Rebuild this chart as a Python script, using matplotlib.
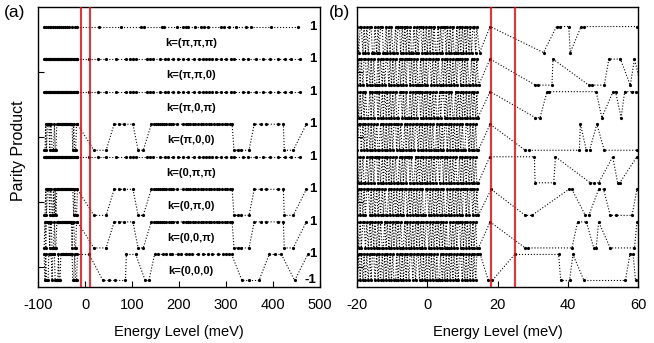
import numpy as np
import matplotlib.pyplot as plt

plt.rcParams['font.family'] = ['Liberation Sans', 'DejaVu Sans']
plt.rcParams['axes.unicode_minus'] = False

# ---------------- panel (a): energies (meV) and parity (+1 / -1) per k ----------------
k_labels = ['k=(π,π,π)', 'k=(π,π,0)', 'k=(π,0,π)', 'k=(π,0,0)',
            'k=(0,π,π)', 'k=(0,π,0)', 'k=(0,0,π)', 'k=(0,0,0)']

ea_cluster = [-87, -85, -83.5, -82, -80, -78.5, -77, -75, -73.5, -72,
              -70, -68.5, -67, -65, -63.5, -62, -60, -58, -56.5, -55,
              -53, -51.5, -50, -48, -46, -44.5, -43, -41, -39.5, -38,
              -36, -34, -32.5, -31, -29, -27.5, -26, -24, -22, -20,
              -18, -16]

ea_row1 = [-87, -83, -79, -75, -72, -68, -64, -60, -56, -52, -47, -43, -38,
           -33, -27, -22, -17, 30, 77, 120, 126, 163, 169, 195, 208, 214,
           220, 235, 246, 253, 261, 289, 296, 306, 321, 343, 353, 396, 454]

ea_flat = [9, 27, 45, 66, 88, 95, 102, 109, 131, 138, 145, 159, 170, 177,
           188, 198, 209, 220, 231, 243, 250, 257, 264, 271, 278, 289, 300,
           310, 318, 336, 346, 364, 378, 393, 410, 425, 439, 458]

ea_mixed = [19, 45, 62, 73, 83, 102, 113, 124,
            141, 146, 150, 155, 159, 164, 168, 172, 178, 183,
            188, 196, 208, 214, 219, 224, 229, 234, 240, 246,
            252, 258, 263, 268, 274, 280, 286, 292, 298, 303,
            308, 313, 317, 325, 332, 349, 360, 375, 385, 411,
            422, 424, 443, 471]
pa_mixed = "--++++--" "++++++++++" "++++++++++" "++++++++++" "++" "----" "+++++" "--" "+"

ea_r8 = [9, 38, 50, 64, 86, 88, 108, 128, 136,
         148, 155, 165, 172, 180, 186, 198, 205, 215, 222,
         228, 240, 250, 262, 270, 282, 294, 300, 307, 312,
         334, 349, 370, 392, 405, 418, 446, 474]
pa_r8 = "+----++--" "++++++++++" "++++++++++" "---+++-+"

# cluster parities (one char per ea_cluster entry)
pc_r4 = "--+-+++-++" "---+--++++" "++++++++++" "++++++-+--" "++"
pc_r6 = "--+-+++-++" "--+-+-++++" "++++++++++" "+++++++-+-" "-+"
pc_r7 = "-+-++++-++" "---+--++++" "++++++++++" "+++++-++--" "++"
pc_r8 = "+-+---++++" "-+++----+-" "-+++++++++" "++++++--+-" "-+"

# ---------------- panel (b) ----------------
eb_dense = [-19.9, -19.5, -19.1, -18.8, -18.3, -18.0, -17.6, -17.2, -16.8, -16.3,
            -16.0, -15.6, -15.2, -14.9, -14.4, -14.0, -13.7, -13.3, -12.8, -12.5,
            -12.1, -11.7, -11.4, -10.9, -10.6, -10.2, -9.8, -9.5, -9.0, -8.7,
            -8.3, -7.9, -7.6, -7.1, -6.8, -6.4, -6.0, -5.7, -5.2, -4.9,
            -4.5, -4.1, -3.8, -3.3, -3.0, -2.6, -2.2, -1.9, -1.4, -1.1,
            -0.7, -0.3, 0.0, 0.5, 0.8, 1.2, 1.6, 1.9, 2.4, 2.7,
            3.1, 3.5, 3.8, 4.3, 4.6, 5.0, 5.4, 5.7, 6.2, 6.5,
            6.9, 7.3, 7.6, 8.1, 8.4, 8.8, 9.2, 9.5, 10.0, 10.3,
            10.7, 11.1, 11.4, 11.9, 12.2, 12.6, 13.0, 13.3, 13.8, 14.1]

pd_r1 = "+-++-+-+-+" "+--+-+-++-" "-+-+-+--+-" "++-+-+-+-+" "--+-+-++-+" "-+-+-+-+--" "+-+-++-+-+" "-+--+-+-+-" "+-+-+-++-+"
pd_r2 = "-+-+-++-+-" "+-+--+-+-+" "-++-+-+-+-" "-+-+-+-++-" "+-+-+--+-+" "-+-++-+-+-" "+--+-+-+-+" "-+-+-++-+-" "+-+--+-+-+"
pd_r3 = "+-+-+-+--+" "-+-++-+-+-" "+-+-+-+-+-" "-++-+-+--+" "-+-+-++-+-" "+-+-+-+-+-" "-+-++-+-+-" "+--+-+-+-+" "-+-+-+-+-+"
pd_r4 = "-++-+-+-+-" "+-+-+--+-+" "-+-+-+-++-" "+-+--+-+-+" "-+-++-+-+-" "+-+-+-+--+" "-+-+-++-+-" "+-+-+-+-+-" "-++-+-+-+-"
pd_r5 = "+-+-+--+-+" "-+-++-+-+-" "+-+-+-+-+-" "-+-+-+-++-" "+--+-+-+-+" "-+-+-+-+-+" "+-++-+-+-+" "-+-+--+-+-" "+-+-+-+-+-"
pd_r6 = "-+-+-+-++-" "+-+-+-+-+-" "+--+-+-+-+" "-+-+-++-+-" "+-+-+-+-+-" "-++-+-+-+-" "+-+-+--+-+" "-+-+-+-+-+" "+-+-++-+-+"
pd_r7 = "+-+-++-+-+" "-+-+-+-+--" "+-+-+-+-+-" "+-+--+-+-+" "-+-+-+-+-+" "-++-+-+-+-" "+-+-+-+--+" "-+-+-++-+-" "+-+-+-+-+-"
pd_r8 = "-+-+-+-+-+" "-++-+-+-+-" "+-+-+-+--+" "-+-+-+-+-+" "+-+-++-+-+" "-+-+-+-+-+" "--+-+-+-+-" "+-+-+-++-+" "-+-+-+-+-+"

eb_r1 = [14.9, 17.9, 33.1, 36.8, 37.9, 40.3, 40.7, 43.8, 44.7, 59.8]
ps_r1 = "-+-+++-+++"
eb_r2 = [14.6, 17.9, 30.8, 31.4, 35.5, 35.8, 46.0, 46.9, 50.4, 51.7, 55.0, 57.8, 59.0, 60.8]
ps_r2 = "-+---+---++-+-"
eb_r3 = [14.4, 17.9, 30.8, 32.1, 34.1, 34.8, 48.1, 49.7, 52.9, 53.6, 55.2, 56.2, 58.3, 59.3]
ps_r3 = "-+--+++-++-+++"
eb_r4 = [14.5, 17.9, 27.9, 29.1, 43.3, 43.6, 45.3, 46.2, 48.3, 50.4, 59.7]
ps_r4 = "-+---+--+--"
eb_r5 = [14.5, 17.8, 30.5, 30.7, 36.0, 36.5, 46.4, 47.4, 48.8, 52.8, 54.2, 54.8, 59.7]
ps_r5 = "-++--+---+--+"
eb_r6 = [14.5, 18.2, 27.9, 29.8, 40.3, 41.2, 45.0, 46.0, 48.8, 50.2, 52.1, 53.6, 58.3, 59.7]
ps_r6 = "-+--++--++---+"
eb_r7 = [14.6, 17.9, 27.9, 28.8, 41.2, 42.8, 45.3, 47.4, 48.1, 48.8, 52.1, 59.0, 59.7]
ps_r7 = "-+---++--+--+"
eb_r8 = [14.5, 15.1, 17.4, 18.5, 24.9, 37.4, 38.0, 40.5, 41.5, 44.6, 56.4, 57.7, 58.6, 59.3]
ps_r8 = "++--++--+--++-"

red_a = [-9.5, 10.5]
red_b = [18.2, 24.9]


def par(s):
    return np.array([1 if c == '+' else -1 for c in s])


def allplus(x):
    return np.ones(len(x))


# rows, top to bottom
rows_a = [
    (ea_row1, allplus(ea_row1)),
    (ea_cluster + ea_flat, allplus(ea_cluster + ea_flat)),
    (ea_cluster + ea_flat, allplus(ea_cluster + ea_flat)),
    (ea_cluster + ea_mixed, par(pc_r4 + pa_mixed)),
    (ea_cluster + ea_flat, allplus(ea_cluster + ea_flat)),
    (ea_cluster + ea_mixed, par(pc_r6 + pa_mixed)),
    (ea_cluster + ea_mixed, par(pc_r7 + pa_mixed)),
    (ea_cluster + ea_r8, par(pc_r8 + pa_r8)),
]
rows_b = [
    (eb_dense + eb_r1, par(pd_r1 + ps_r1)),
    (eb_dense + eb_r2, par(pd_r2 + ps_r2)),
    (eb_dense + eb_r3, par(pd_r3 + ps_r3)),
    (eb_dense + eb_r4, par(pd_r4 + ps_r4)),
    (eb_dense + eb_r5, par(pd_r5 + ps_r5)),
    (eb_dense + eb_r6, par(pd_r6 + ps_r6)),
    (eb_dense + eb_r7, par(pd_r7 + ps_r7)),
    (eb_dense + eb_r8, par(pd_r8 + ps_r8)),
]

step = 2.5
fig = plt.figure(figsize=(6.54, 3.43), dpi=100)
ax1 = fig.add_axes([38/654, 56/343, 282/654, 280/343])
ax2 = fig.add_axes([357/654, 56/343, 281/654, 280/343])

for ax, rows in [(ax1, rows_a), (ax2, rows_b)]:
    for i, (x, p) in enumerate(rows):
        base = step * (len(rows) - 1 - i)
        ax.plot(x, base + p, ls=':', color='k', lw=0.8,
                marker='o', ms=2.3, mfc='k', mec='k', mew=0)
    ax.set_ylim(-1.5, 20)
    ax.set_yticks([0, 5, 10, 15])
    ax.set_yticklabels([])
    ax.tick_params(direction='in', length=4, width=0.8, top=False, right=False,
                   labelsize=10.5, pad=8)
    for sp in ax.spines.values():
        sp.set_linewidth(1.0)
    ax.set_xlabel('Energy Level (meV)', fontsize=10.5, labelpad=9)

ax1.set_xlim(-100, 500)
ax1.set_xticks([-100, 0, 100, 200, 300, 400, 500])
ax2.set_xlim(-20, 60)
ax2.set_xticks([-20, 0, 20, 40, 60])

for xv in red_a:
    ax1.axvline(xv, color='red', lw=1.2, zorder=5)
for xv in red_b:
    ax2.axvline(xv, color='red', lw=1.2, zorder=5)

for i, lab in enumerate(k_labels):
    base = step * (7 - i)
    ax1.text(225, base - 0.25, lab, ha='center', va='center',
             fontsize=8, fontweight='bold')
    ax1.text(493, base + 1, '1', ha='right', va='center',
             fontsize=9.5, fontweight='bold')
ax1.text(493, -1, '-1', ha='right', va='center', fontsize=9.5, fontweight='bold')

fig.text(19/654, 0.56, 'Parity Product', rotation=90, ha='center', va='center',
         fontsize=11.5)
fig.text(4/654, 1 - 12/343, '(a)', ha='left', va='center', fontsize=12.5)
fig.text(329/654, 1 - 12/343, '(b)', ha='left', va='center', fontsize=12.5)

fig.savefig('out.png', dpi=100)
